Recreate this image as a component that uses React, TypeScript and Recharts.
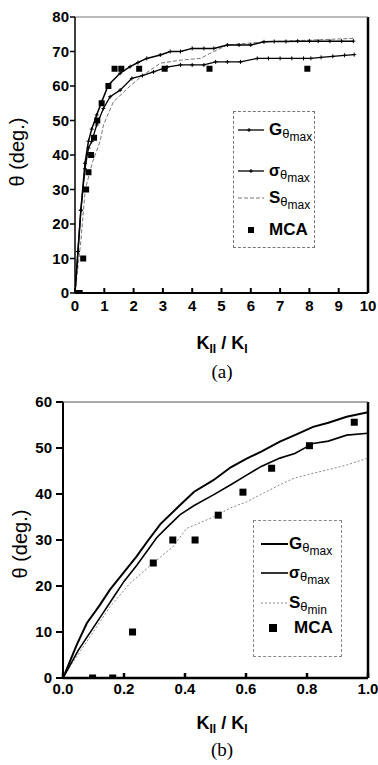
import React from 'react';
import { ComposedChart, Line, Scatter, XAxis, YAxis, ReferenceLine, Legend } from 'recharts';

const FONT = '"Liberation Sans", Arial, Helvetica, sans-serif';
const SERIF = '"Liberation Serif", "Times New Roman", serif';

// ---- Chart (a) ----
const xTicksA = [0, 1, 2, 3, 4, 5, 6, 7, 8, 9, 10];
const yTicksA = [0, 10, 20, 30, 40, 50, 60, 70, 80];
const gmaxA = [
  { x: 0, y: 0 }, { x: 0.1, y: 12 }, { x: 0.2, y: 24 }, { x: 0.34, y: 37.6 }, { x: 0.46, y: 44 },
  { x: 0.57, y: 47.5 }, { x: 0.74, y: 51.6 }, { x: 0.91, y: 55.4 }, { x: 1.14, y: 60.3 },
  { x: 1.54, y: 63.7 }, { x: 1.88, y: 65.6 }, { x: 2.15, y: 66.8 }, { x: 2.45, y: 68 }, { x: 2.91, y: 69 },
  { x: 3.25, y: 70 }, { x: 3.6, y: 70 }, { x: 4.0, y: 70.9 }, { x: 4.4, y: 70.9 }, { x: 4.74, y: 70.9 },
  { x: 5.2, y: 71.9 }, { x: 5.6, y: 71.9 }, { x: 6.0, y: 71.9 }, { x: 6.45, y: 72.8 }, { x: 6.8, y: 72.9 },
  { x: 7.2, y: 72.9 }, { x: 7.6, y: 73 }, { x: 8.0, y: 73 }, { x: 8.3, y: 73 }, { x: 8.7, y: 73 },
  { x: 9.1, y: 73 }, { x: 9.5, y: 73 },
];
const sigmaA = [
  { x: 0, y: 0 }, { x: 0.1, y: 12 }, { x: 0.2, y: 24 }, { x: 0.34, y: 36 }, { x: 0.46, y: 42 },
  { x: 0.57, y: 43.9 }, { x: 0.74, y: 48.7 }, { x: 0.97, y: 53.5 }, { x: 1.2, y: 56.9 },
  { x: 1.54, y: 58.8 }, { x: 1.94, y: 62.2 }, { x: 2.3, y: 63 }, { x: 2.68, y: 64.1 }, { x: 3.14, y: 65.5 },
  { x: 3.6, y: 66.1 }, { x: 4.0, y: 66.1 }, { x: 4.4, y: 66.1 }, { x: 4.8, y: 67 }, { x: 5.2, y: 67 },
  { x: 5.65, y: 67 }, { x: 6.22, y: 68 }, { x: 6.6, y: 68 }, { x: 7.0, y: 68 }, { x: 7.4, y: 68 },
  { x: 7.8, y: 68 }, { x: 8.05, y: 68 }, { x: 8.4, y: 68.3 }, { x: 8.8, y: 68.6 }, { x: 9.2, y: 68.9 },
  { x: 9.53, y: 69.1 },
];
const smaxA = [
  { x: 0, y: 0 }, { x: 0.2, y: 15 }, { x: 0.35, y: 30 }, { x: 0.6, y: 38 }, { x: 0.86, y: 44 },
  { x: 0.97, y: 48.7 }, { x: 1.31, y: 55.4 }, { x: 1.88, y: 60 }, { x: 2.3, y: 63 }, { x: 2.91, y: 66.6 },
  { x: 3.6, y: 67.5 }, { x: 4.28, y: 68 }, { x: 4.74, y: 70 }, { x: 5.2, y: 71.9 }, { x: 6.5, y: 72.8 },
  { x: 8.0, y: 73.3 }, { x: 9.5, y: 73.8 },
];
const mcaA = [
  { x: 0.1, y: 0 }, { x: 0.16, y: 0 }, { x: 0.28, y: 10 }, { x: 0.38, y: 30 }, { x: 0.46, y: 35 },
  { x: 0.55, y: 40 }, { x: 0.65, y: 45 }, { x: 0.76, y: 50 }, { x: 0.91, y: 55 }, { x: 1.14, y: 60 },
  { x: 1.35, y: 65 }, { x: 1.58, y: 65 }, { x: 2.19, y: 65 }, { x: 3.06, y: 65 }, { x: 4.59, y: 65 },
  { x: 7.93, y: 65 },
];

// ---- Chart (b) ----
const xTicksB = [0, 0.2, 0.4, 0.6, 0.8, 1.0];
const yTicksB = [0, 10, 20, 30, 40, 50, 60];
const gmaxB = [
  { x: 0, y: 0 }, { x: 0.045, y: 7.2 }, { x: 0.078, y: 11.9 }, { x: 0.12, y: 15.8 }, { x: 0.154, y: 19.2 },
  { x: 0.2, y: 23 }, { x: 0.242, y: 26.5 }, { x: 0.28, y: 30 }, { x: 0.32, y: 33.5 }, { x: 0.384, y: 37.6 },
  { x: 0.43, y: 40.5 }, { x: 0.493, y: 43 }, { x: 0.55, y: 45.8 }, { x: 0.602, y: 47.7 }, { x: 0.65, y: 49.2 },
  { x: 0.711, y: 51.4 }, { x: 0.76, y: 52.8 }, { x: 0.82, y: 54.6 }, { x: 0.87, y: 55.5 }, { x: 0.93, y: 56.8 },
  { x: 1.0, y: 57.8 },
];
const sigmaB = [
  { x: 0, y: 0 }, { x: 0.05, y: 6 }, { x: 0.1, y: 11 }, { x: 0.13, y: 14 }, { x: 0.165, y: 17.5 },
  { x: 0.2, y: 21 }, { x: 0.242, y: 24.5 }, { x: 0.28, y: 28 }, { x: 0.307, y: 30.5 }, { x: 0.34, y: 32.7 },
  { x: 0.384, y: 35.5 }, { x: 0.43, y: 37.5 }, { x: 0.493, y: 39.8 }, { x: 0.55, y: 42 }, { x: 0.602, y: 44.1 },
  { x: 0.65, y: 46 }, { x: 0.711, y: 47.8 }, { x: 0.76, y: 48.8 }, { x: 0.82, y: 51 }, { x: 0.87, y: 51.5 },
  { x: 0.93, y: 52.8 }, { x: 1.0, y: 53.2 },
];
const sminB = [
  { x: 0, y: 0 }, { x: 0.023, y: 2.5 }, { x: 0.089, y: 9 }, { x: 0.154, y: 15.5 }, { x: 0.22, y: 20.6 },
  { x: 0.296, y: 25 }, { x: 0.36, y: 28.5 }, { x: 0.405, y: 32.5 }, { x: 0.493, y: 35 }, { x: 0.55, y: 37 },
  { x: 0.602, y: 38.3 }, { x: 0.66, y: 40.3 }, { x: 0.711, y: 42 }, { x: 0.76, y: 43.5 }, { x: 0.82, y: 44.5 },
  { x: 0.87, y: 45.3 }, { x: 0.93, y: 46.3 }, { x: 1.0, y: 47.8 },
];
const mcaB = [
  { x: 0.097, y: 0 }, { x: 0.163, y: 0 }, { x: 0.228, y: 10 }, { x: 0.296, y: 25 }, { x: 0.36, y: 30 },
  { x: 0.433, y: 30 }, { x: 0.509, y: 35.4 }, { x: 0.59, y: 40.4 }, { x: 0.684, y: 45.6 },
  { x: 0.808, y: 50.5 }, { x: 0.955, y: 55.6 },
];

const tickStyle = { fill: '#000', fontSize: 15, fontWeight: 700, fontFamily: FONT };

const PlusDot = (props: any) => {
  const { cx, cy, key } = props;
  if (cx == null || cy == null) return <g key={key} />;
  return <path key={key} d={`M${cx - 2},${cy}h4M${cx},${cy - 2}v4`} stroke="#000" strokeWidth={1} />;
};

const makeSquare = (s: number) => (props: any) => {
  const { cx, cy } = props;
  return <rect x={cx - s / 2} y={cy - s / 2} width={s} height={s} fill="#000" />;
};

const Sub = ({ main, sub, mainSize = 17 }: { main: string; sub: string; mainSize?: number }) => (
  <span style={{ whiteSpace: 'nowrap', fontFamily: FONT }}>
    <span style={{ fontSize: mainSize, fontWeight: 700 }}>{main}</span>
    <span style={{ fontSize: 13, position: 'relative', top: 3 }}>θ</span>
    <span style={{ fontSize: 12, position: 'relative', top: 6 }}>{sub}</span>
  </span>
);

const Row = ({ top, sample, label, textLeft = 35 }: any) => (
  <div style={{ position: 'absolute', left: 0, top: top - 10, height: 20, width: '100%', display: 'flex', alignItems: 'center' }}>
    <div style={{ position: 'absolute', left: 0, top: 0 }}>
      <svg width={40} height={20}>{sample}</svg>
    </div>
    <div style={{ position: 'absolute', left: textLeft, top: 0, height: 20, lineHeight: '20px' }}>{label}</div>
  </div>
);

const LegendA = () => (
  <div style={{ position: 'relative', width: 82, height: 137, border: '1px dashed #777', boxSizing: 'border-box', background: '#fff' }}>
    <Row top={18} label={<Sub main="G" sub="max" />} sample={<g><line x1={4} y1={10} x2={30} y2={10} stroke="#000" strokeWidth={1.3} /><path d="M15,8v4M13,10h4" stroke="#000" /></g>} />
    <Row top={59} label={<Sub main="σ" sub="max" mainSize={16} />} sample={<g><line x1={4} y1={10} x2={30} y2={10} stroke="#000" strokeWidth={1.3} /><path d="M17,8v4M15,10h4" stroke="#000" /></g>} />
    <Row top={86} label={<Sub main="S" sub="max" />} sample={<line x1={4} y1={10} x2={30} y2={10} stroke="#777" strokeWidth={1} strokeDasharray="4 2" />} />
    <Row top={118} label={<span style={{ fontFamily: FONT, fontSize: 17, fontWeight: 700 }}>MCA</span>} sample={<rect x={14} y={7} width={6} height={6} fill="#000" />} />
  </div>
);

const LegendB = () => (
  <div style={{ position: 'relative', width: 89, height: 137, border: '1px dashed #888', boxSizing: 'border-box', background: '#fff' }}>
    <Row top={23} label={<Sub main="G" sub="max" />} sample={<line x1={7} y1={10} x2={34} y2={10} stroke="#000" strokeWidth={2} />} />
    <Row top={52} label={<Sub main="σ" sub="max" mainSize={16} />} sample={<line x1={7} y1={10} x2={34} y2={10} stroke="#000" strokeWidth={1.6} />} />
    <Row top={82} label={<Sub main="S" sub="min" />} sample={<line x1={7} y1={10} x2={34} y2={10} stroke="#888" strokeWidth={1} strokeDasharray="2 2" />} />
    <Row top={107} textLeft={40} label={<span style={{ fontFamily: FONT, fontSize: 17, fontWeight: 700 }}>MCA</span>} sample={<rect x={15} y={6} width={8} height={8} fill="#000" />} />
  </div>
);

const XTitle = ({ cy }: { cy: number }) => (
  <div style={{ position: 'absolute', left: 122, width: 200, top: cy - 12, height: 24, lineHeight: '24px', textAlign: 'center', fontFamily: FONT, fontWeight: 700, fontSize: 18 }}>
    K<span style={{ fontSize: 12, position: 'relative', top: 4 }}>II</span> / K<span style={{ fontSize: 12, position: 'relative', top: 4 }}>I</span>
  </div>
);

const YTitle = ({ cx, cy }: { cx: number; cy: number }) => (
  <div style={{ position: 'absolute', left: cx - 60, width: 120, top: cy - 12, height: 24, lineHeight: '24px', textAlign: 'center', fontFamily: FONT, fontSize: 20, transform: 'rotate(-90deg)' }}>
    θ (deg.)
  </div>
);

const Caption = ({ cy, text }: { cy: number; text: string }) => (
  <div style={{ position: 'absolute', left: 172, width: 100, top: cy - 12, height: 24, lineHeight: '24px', textAlign: 'center', fontFamily: SERIF, fontSize: 19 }}>
    {text}
  </div>
);

export default function App() {
  return (
    <div style={{ position: 'absolute', left: 0, top: 0, width: 378, height: 765, background: '#fff', overflow: 'hidden' }}>
      <div style={{ position: 'absolute', left: 0, top: 0 }}>
        <ComposedChart width={378} height={325} margin={{ top: 17, right: 10, left: 0, bottom: 0 }}>
          <XAxis type="number" dataKey="x" domain={[0, 10]} ticks={xTicksA} interval={0} allowDataOverflow
            height={32} tickSize={-5} tickMargin={12} stroke="#000" strokeWidth={2} tick={tickStyle} />
          <YAxis type="number" dataKey="y" domain={[0, 80]} ticks={yTicksA} interval={0} allowDataOverflow
            width={75} tickSize={5} tickMargin={1} stroke="#000" strokeWidth={1.5} tick={tickStyle} />
          <ReferenceLine x={10} stroke="#000" strokeWidth={2.5} />
          <ReferenceLine y={80} stroke="#777" strokeWidth={1} />
          <Line data={smaxA} dataKey="y" type="linear" stroke="#777" strokeWidth={1} strokeDasharray="4 2" dot={false} activeDot={false} isAnimationActive={false} />
          <Line data={sigmaA} dataKey="y" type="linear" stroke="#000" strokeWidth={1.3} dot={PlusDot} activeDot={false} isAnimationActive={false} />
          <Line data={gmaxA} dataKey="y" type="linear" stroke="#000" strokeWidth={1.5} dot={PlusDot} activeDot={false} isAnimationActive={false} />
          <Scatter data={mcaA} dataKey="y" shape={makeSquare(6)} isAnimationActive={false} />
          <Legend layout="horizontal" verticalAlign="middle" align="center" content={() => <LegendA />}
            wrapperStyle={{ position: 'absolute', left: 233, top: 111, width: 82, height: 137 }} />
        </ComposedChart>
      </div>
      <YTitle cx={17} cy={152} />
      <XTitle cy={343} />
      <Caption cy={372} text="(a)" />

      <div style={{ position: 'absolute', left: 0, top: 385 }}>
        <ComposedChart width={378} height={330} margin={{ top: 17, right: 10, left: 0, bottom: 0 }}>
          <XAxis type="number" dataKey="x" domain={[0, 1]} ticks={xTicksB} interval={0} allowDataOverflow
            tickFormatter={(v: number) => v.toFixed(1)}
            height={37} tickSize={-5} tickMargin={10} stroke="#000" strokeWidth={2.5} tick={tickStyle} />
          <YAxis type="number" dataKey="y" domain={[0, 60]} ticks={yTicksB} interval={0} allowDataOverflow
            width={63} tickSize={7} tickMargin={4} stroke="#000" strokeWidth={2} tick={tickStyle} />
          <ReferenceLine x={1} stroke="#000" strokeWidth={2.5} />
          <ReferenceLine y={60} stroke="#555" strokeWidth={1} />
          <Line data={sminB} dataKey="y" type="linear" stroke="#888" strokeWidth={1} strokeDasharray="2 2" dot={false} activeDot={false} isAnimationActive={false} />
          <Line data={sigmaB} dataKey="y" type="linear" stroke="#000" strokeWidth={1.6} dot={false} activeDot={false} isAnimationActive={false} />
          <Line data={gmaxB} dataKey="y" type="linear" stroke="#000" strokeWidth={2} dot={false} activeDot={false} isAnimationActive={false} />
          <Scatter data={mcaB} dataKey="y" shape={makeSquare(7)} isAnimationActive={false} />
          <Legend layout="horizontal" verticalAlign="middle" align="center" content={() => <LegendB />}
            wrapperStyle={{ position: 'absolute', left: 253, top: 520 - 385, width: 89, height: 137 }} />
        </ComposedChart>
      </div>
      <YTitle cx={20} cy={544} />
      <XTitle cy={723} />
      <Caption cy={750} text="(b)" />
    </div>
  );
}
